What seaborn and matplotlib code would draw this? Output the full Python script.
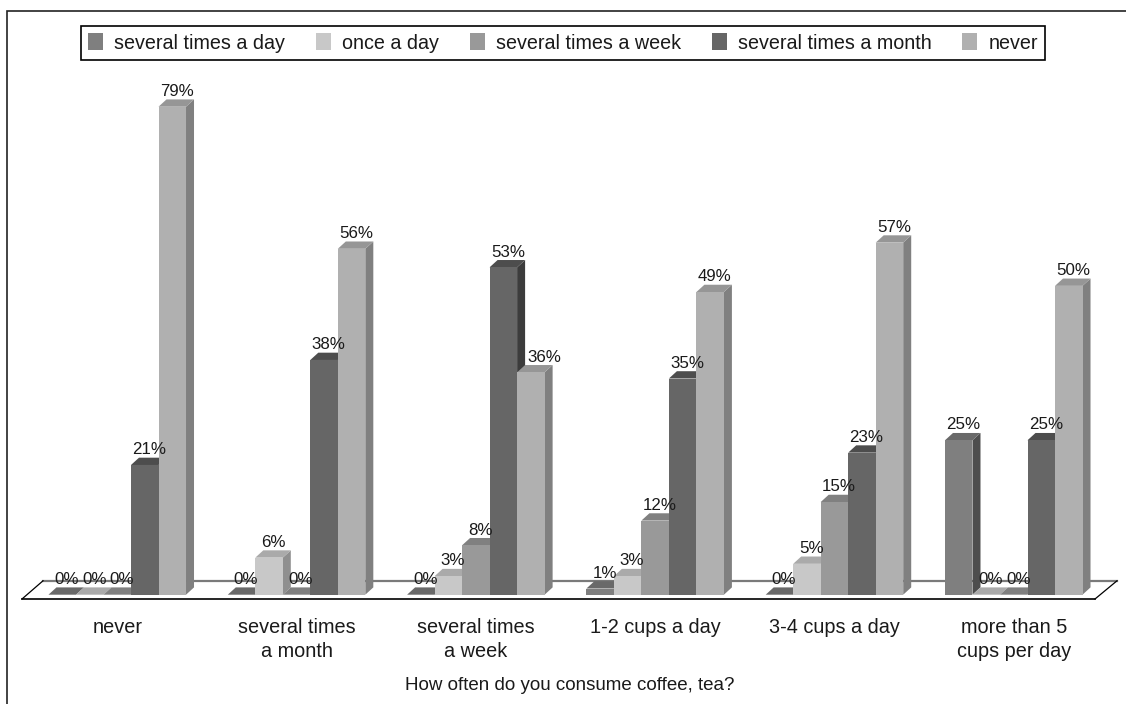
import numpy as np
import pandas as pd
import seaborn as sns
from matplotlib import pyplot as plt
from matplotlib.patches import Polygon, Rectangle

categories = ['never', 'several times\na month', 'several times\na week',
              '1-2 cups a day', '3-4 cups a day', 'more than 5\ncups per day']
day_several = [0, 0, 0, 1, 0, 25]
day_once = [0, 6, 3, 3, 5, 0]
week_several = [0, 0, 8, 12, 15, 0]
month_several = [21, 38, 53, 35, 23, 25]
never = [79, 56, 36, 49, 57, 50]
series_names = ['several times a day', 'once a day', 'several times a week',
                'several times a month', 'never']
series_values = [day_several, day_once, week_several, month_several, never]

# front, top, side shades for each series
front = ['#7f7f7f', '#c8c8c8', '#999999', '#666666', '#b0b0b0']
top = ['#696969', '#aaaaaa', '#808080', '#4d4d4d', '#969696']
side = ['#4d4d4d', '#8f8f8f', '#6e6e6e', '#3c3c3c', '#808080']

rows = []
for name, vals in zip(series_names, series_values):
    for cat, v in zip(categories, vals):
        rows.append({'freq': cat, 'pct': v, 'series': name})
df = pd.DataFrame(rows)

W, H = 1126, 704
plt.rcParams['font.family'] = ['Liberation Sans', 'DejaVu Sans']
fig = plt.figure(figsize=(W / 100, H / 100), dpi=100)
fig.patch.set_facecolor('white')

# pixel layout of the plot
x_left, x_right, y_floor, y_top = 22, 1117, 599, 60
pitch, y_scale = 179.3, 6.177
x_first, y_base = 117.25, 594.7
ax = fig.add_axes([x_left / W, 1 - y_floor / H, (x_right - x_left) / W, (y_floor - y_top) / H])

sns.barplot(data=df, x='freq', y='pct', hue='series', palette=front, width=0.767,
            gap=0, saturation=1, ax=ax, linewidth=0)
ax.set_xlim((x_left - x_first) / pitch, (x_right - x_first) / pitch)
ax.set_ylim((y_base - y_floor) / y_scale, (y_base - y_top) / y_scale)
ax.set_yticks([])
ax.set_ylabel('')
ax.patch.set_alpha(0)
for s in ax.spines.values():
    s.set_visible(False)
ax.tick_params(axis='x', length=0, pad=13.5, labelsize=14.3, labelcolor='#1a1a1a')
for t in ax.get_xticklabels():
    t.set_linespacing(1.32)
ax.set_xlabel('How often do you consume coffee, tea?', fontsize=13.5, color='#1a1a1a', labelpad=12)

# depth of the fake 3d, in data units
dx, dy = 8 / pitch, 7.3 / y_scale

# floor
fx0, fx1 = ax.get_xlim()
fy0 = ax.get_ylim()[0]
fy1 = fy0 + 18.2 / y_scale
skew = 21 / pitch
ax.add_patch(Polygon([(fx0, fy0), (fx0 + skew, fy1), (fx1, fy1), (fx1 - 22 / pitch, fy0)],
                     closed=True, fc='white', ec='none', zorder=1))
ax.plot([fx0 + skew, fx1], [fy1, fy1], color='#7a7a7a', lw=1.6, zorder=1.1, clip_on=False)
ax.plot([fx0, fx1 - 22 / pitch], [fy0, fy0], color='black', lw=1.2, zorder=1.1, clip_on=False)
ax.plot([fx0, fx0 + skew], [fy0, fy1], color='black', lw=0.9, zorder=1.1, clip_on=False)
ax.plot([fx1 - 22 / pitch, fx1], [fy0, fy1], color='black', lw=0.9, zorder=1.1, clip_on=False)

z = 2
for i, cont in enumerate(ax.containers):
    for j, (bar, val) in enumerate(zip(cont.patches, series_values[i])):
        x0, w, h = bar.get_x(), bar.get_width(), bar.get_height()
        x1 = x0 + w
        ax.add_patch(Polygon([(x1, 0), (x1 + dx, dy), (x1 + dx, h + dy), (x1, h)],
                             fc=side[i], ec='none', zorder=z))
        ax.add_patch(Polygon([(x0, h), (x0 + dx, h + dy), (x1 + dx, h + dy), (x1, h)],
                             fc=top[i], ec='none', zorder=z + 0.1))
        bar.set_zorder(z + 0.2)
        # the 36% label sits clear of the taller bar next to it
        off_x = 9.5 if (i, j) == (4, 2) else 3.2
        ax.annotate(f'{val}%', (x0 + w / 2, h), xytext=(off_x, 11), textcoords='offset points',
                    ha='center', va='center', fontsize=12.2, color='#1a1a1a', zorder=20)
    z += 1

sns.move_legend(ax, 'center', bbox_to_anchor=(563 / W, 1 - 43 / H),
                bbox_transform=fig.transFigure, ncol=5, title=None, frameon=True,
                fancybox=False, framealpha=1, edgecolor='black', fontsize=14.2,
                handlelength=0.77, handleheight=0.95, handletextpad=0.57,
                columnspacing=1.55, borderpad=0.36, borderaxespad=0)
ax.get_legend().get_frame().set_linewidth(1.2)
for t in ax.get_legend().get_texts():
    t.set_color('#1a1a1a')

# border of the picture, right and bottom sides run past the image
fig.add_artist(Rectangle((6.5 / W, 1 - 710 / H), (1135 - 6.5) / W, (710 - 10.5) / H, fill=False,
                         ec='#222222', lw=1.2, transform=fig.transFigure))

fig.savefig('out.png', dpi=100)
